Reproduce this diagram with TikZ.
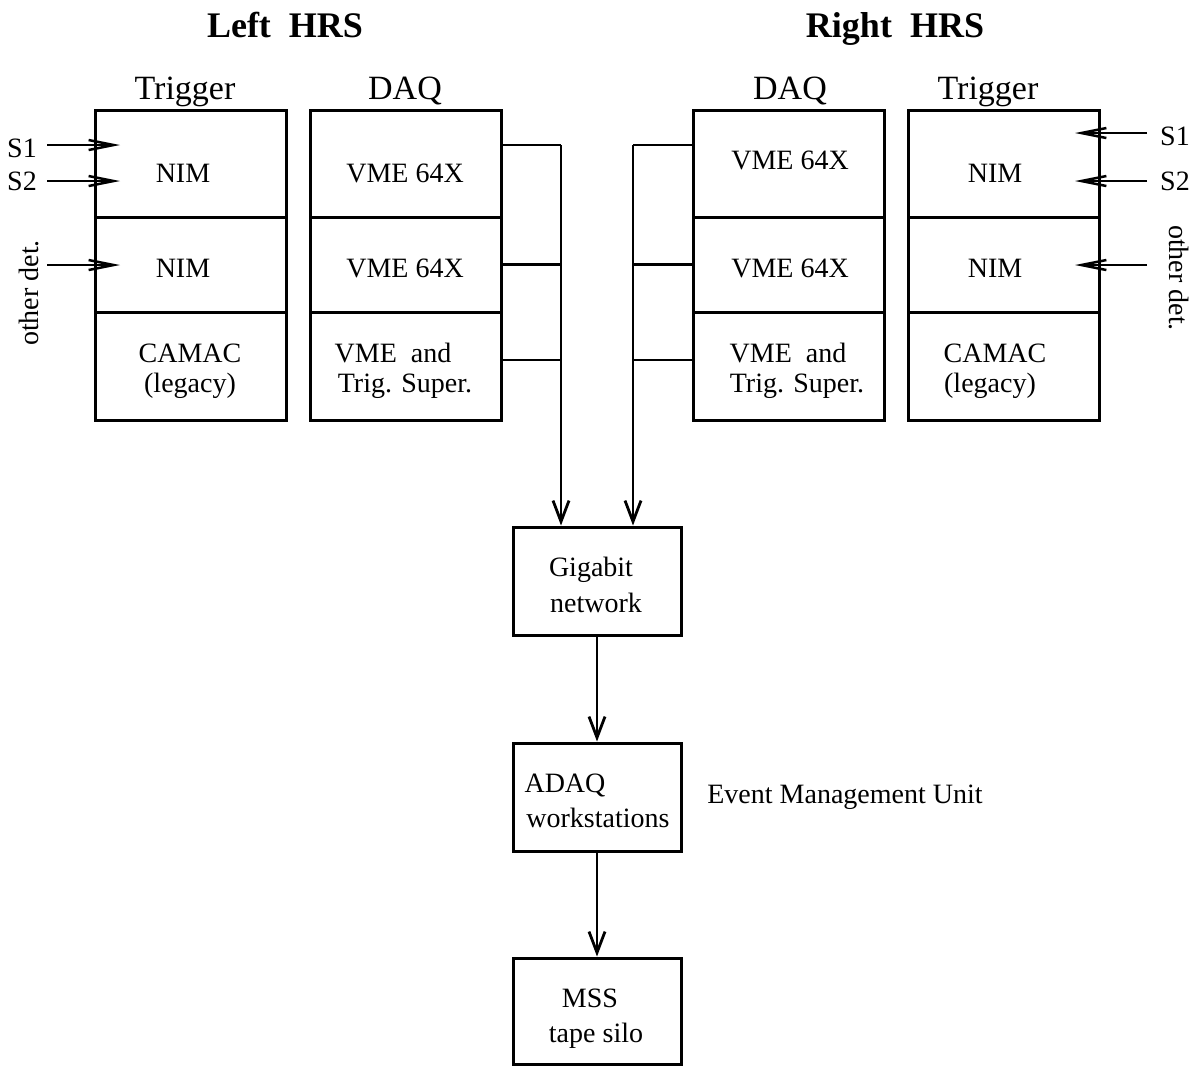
\documentclass[tikz,border=0pt]{standalone}
\usepackage{fontspec}
\setmainfont{Liberation Serif}
\usetikzlibrary{arrows.meta}
\begin{document}
\begin{tikzpicture}[x=1pt,y=-1pt,
  cell/.style={draw,line width=3pt,rectangle,inner sep=0pt,minimum width=191pt},
  flowbox/.style={draw,line width=3pt,rectangle,inner sep=0pt,minimum width=168pt,minimum height=108pt},
  txt/.style={inner sep=0pt,anchor=base,font=\fontsize{28}{32}\selectfont},
  rtxt/.style={inner sep=0pt,font=\fontsize{28}{32}\selectfont},
  head/.style={inner sep=0pt,anchor=base,font=\fontsize{34}{38}\selectfont},
  title/.style={inner sep=0pt,anchor=base,font=\fontsize{36}{42}\selectfont\bfseries},
  wire/.style={line width=2.8pt},
  inarrow/.style={line width=2.8pt,-{Straight Barb[length=25pt,width=10pt,line width=2.5pt]}},
  downarrow/.style={line width=2.8pt,-{Straight Barb[length=21pt,width=16pt,line width=2.8pt]}}
]
\useasboundingbox (0,0) rectangle (1196,1066);

% titles
\node[title] (tl) at (285,37) {Left\ \ HRS};
\node[title] (tr) at (895,37) {Right\ \ HRS};
\node[head] (hlt) at (185,99) {Trigger};
\node[head] (hld) at (405,99) {DAQ};
\node[head] (hrd) at (790,99) {DAQ};
\node[head] (hrt) at (988,99) {Trigger};

% left trigger
\node[cell,minimum height=107pt] (lt1) at (190.5,163.5) {};
\node[cell,minimum height=95pt]  (lt2) at (190.5,264.5) {};
\node[cell,minimum height=108pt] (lt3) at (190.5,366) {};
\node[txt] (lt1t) at (183,182) {NIM};
\node[txt] (lt2t) at (183,277) {NIM};
\node[txt] (lt3a) at (190,362) {CAMAC};
\node[txt] (lt3b) at (190,392) {(legacy)};

% left DAQ
\node[cell,minimum height=107pt] (ld1) at (405.5,163.5) {};
\node[cell,minimum height=95pt]  (ld2) at (405.5,264.5) {};
\node[cell,minimum height=108pt] (ld3) at (405.5,366) {};
\node[txt] (ld1t) at (405,182) {VME 64X};
\node[txt] (ld2t) at (405,277) {VME 64X};
\node[txt] (ld3a) at (393,362) {VME\ \ and};
\node[txt] (ld3b) at (405,392) {Trig. Super.};

% right DAQ
\node[cell,minimum height=107pt] (rd1) at (788.5,163.5) {};
\node[cell,minimum height=95pt]  (rd2) at (788.5,264.5) {};
\node[cell,minimum height=108pt] (rd3) at (788.5,366) {};
\node[txt] (rd1t) at (790,169) {VME 64X};
\node[txt] (rd2t) at (790,277) {VME 64X};
\node[txt] (rd3a) at (788,362) {VME\ \ and};
\node[txt] (rd3b) at (797,392) {Trig. Super.};

% right trigger
\node[cell,minimum height=107pt] (rt1) at (1003.5,163.5) {};
\node[cell,minimum height=95pt]  (rt2) at (1003.5,264.5) {};
\node[cell,minimum height=108pt] (rt3) at (1003.5,366) {};
\node[txt] (rt1t) at (995,182) {NIM};
\node[txt] (rt2t) at (995,277) {NIM};
\node[txt] (rt3a) at (995,362) {CAMAC};
\node[txt] (rt3b) at (990,392) {(legacy)};

% central flow
\node[flowbox] (gb) at (597,581) {};
\node[txt] (gba) at (591,576) {Gigabit};
\node[txt] (gbb) at (596,612) {network};
\node[flowbox] (ad) at (597,797) {};
\node[txt] (ada) at (565,792) {ADAQ};
\node[txt] (adb) at (598,827) {workstations};
\node[txt] (emu) at (845,803) {Event Management Unit};
\node[flowbox,minimum height=106pt] (ms) at (597,1011) {};
\node[txt] (msa) at (590,1007) {MSS};
\node[txt] (msb) at (596,1042) {tape silo};

% left input labels and arrows
\node[txt] (s1l) at (22,157) {S1};
\node[txt] (s2l) at (22,190) {S2};
\node[rtxt,rotate=90] (odl) at (29,293) {other det.};
\coordinate (s1ls) at (47,145);  \coordinate (s1le) at (120,145);
\coordinate (s2ls) at (47,181);  \coordinate (s2le) at (120,181);
\coordinate (odls) at (47,265);  \coordinate (odle) at (120,265);
\draw[inarrow] (s1ls) -- (s1le);
\draw[inarrow] (s2ls) -- (s2le);
\draw[inarrow] (odls) -- (odle);

% right input labels and arrows
\node[txt] (s1r) at (1175,145) {S1};
\node[txt] (s2r) at (1175,190) {S2};
\node[rtxt,rotate=-90] (odr) at (1179,278) {other det.};
\coordinate (s1rs) at (1147,133);  \coordinate (s1re) at (1075,133);
\coordinate (s2rs) at (1147,181);  \coordinate (s2re) at (1075,181);
\coordinate (odrs) at (1147,265);  \coordinate (odre) at (1075,265);
\draw[inarrow] (s1rs) -- (s1re);
\draw[inarrow] (s2rs) -- (s2re);
\draw[inarrow] (odrs) -- (odre);

% DAQ buses
\coordinate (busL) at (561,145);
\coordinate (busR) at (633,145);
\coordinate (y3) at (0,360);
\draw[wire] (ld1.east |- busL) -- (busL);
\draw[wire] (ld2.east) -- (ld2.east -| busL);
\draw[wire] (ld3.east |- y3) -- (busL |- y3);
\draw[downarrow] (busL) -- (busL |- gb.north);
\draw[wire] (rd1.west |- busR) -- (busR);
\draw[wire] (rd2.west) -- (rd2.west -| busR);
\draw[wire] (rd3.west |- y3) -- (busR |- y3);
\draw[downarrow] (busR) -- (busR |- gb.north);

\draw[downarrow] (gb.south) -- (ad.north);
\draw[downarrow] (ad.south) -- (ms.north);
\end{tikzpicture}
\end{document}
